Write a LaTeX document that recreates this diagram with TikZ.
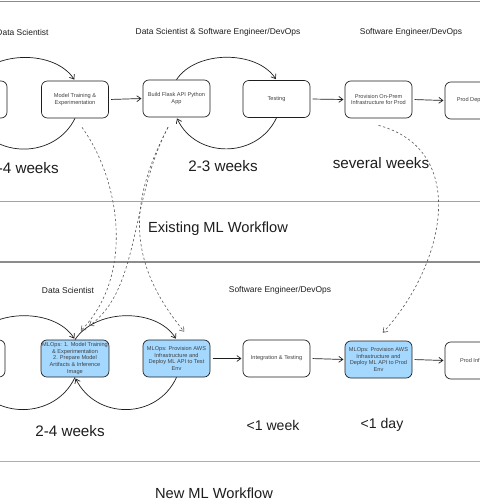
\documentclass[tikz,border=0pt]{standalone}
\usepackage{fontspec}
\setmainfont{Liberation Sans}
\usetikzlibrary{arrows.meta,calc}
\definecolor{ink}{HTML}{1E1E1E}
\definecolor{mlblue}{HTML}{A5D8FF}
\definecolor{rulegray}{HTML}{8C8C8C}
\begin{document}
\begin{tikzpicture}[x=0.03cm, y=-0.03cm,
  flowbox/.style={draw=ink, line width=0.6pt, rounded corners=5pt, minimum width=2.01cm,
    minimum height=1.11cm, align=center, inner sep=1pt, text=ink!85,
    font=\fontsize{4.8}{5.8}\selectfont},
  mlbox/.style={flowbox, fill=mlblue},
  flow/.style={draw=ink, line width=0.6pt, -{Straight Barb[length=3.5pt,width=5pt]}, shorten >=1pt},
  link/.style={flow, draw=ink!75, line width=0.5pt, dash pattern=on 2pt off 2pt},
  role/.style={font=\fontsize{7.2}{8.5}\selectfont, text=ink},
  duration/.style={font=\fontsize{13}{15}\selectfont, text=ink},
  shortdur/.style={font=\fontsize{12}{14}\selectfont, text=ink},
  wftitle/.style={font=\fontsize{12.5}{14}\selectfont, text=ink}]

  % page, cropped like the screenshot
  \useasboundingbox (0,0) rectangle (480,504);
  \fill[white] (0,0) rectangle (480,504);
  \clip (0,0) rectangle (480,504);

  % separators
  \draw[rulegray, line width=1.2pt] (0,1.5) -- (480,1.5);
  \draw[rulegray!80, line width=0.6pt] (0,201) -- (480,201);
  \draw[rulegray, line width=1.5pt] (0,262) -- (480,262);
  \draw[rulegray!70, line width=0.6pt] (0,461) -- (480,461);

  % Existing workflow: roles
  \node[role] (hds) at (22.5,32) {Data Scientist};
  \node[role] (hdsse) at (218,32) {Data Scientist \& Software Engineer/DevOps};
  \node[role] (hse) at (411,32) {Software Engineer/DevOps};

  % Existing workflow: steps
  \node[flowbox] (t0) at (-26.5,99.5) {};
  \node[flowbox] (t1) at (75,99.5) {Model Training \&\\Experimentation};
  \node[flowbox] (t2) at (176.5,98.5) {Build Flask API Python\\App};
  \node[flowbox] (t3) at (276.5,99) {Testing};
  \node[flowbox] (t4) at (378.5,99.5) {Provision On-Prem\\Infrastructure for Prod};
  \node[flowbox] (t5) at (478.5,100.5) {Prod Deployment};

  \draw[flow] (t0.north) .. controls (-6,50) and (55,50) .. (t1.north);
  \draw[flow] (t1.south) .. controls (55,159) and (-6,159) .. (t0.south);
  \draw[flow, shorten <=2pt] (t1.east) -- (t2.west);
  \draw[flow] (t2.north) .. controls (196,50) and (257,50) .. (t3.north);
  \draw[flow] (t3.south) .. controls (257,159) and (196,159) .. (t2.south);
  \draw[flow, shorten <=2pt] (t3.east) -- (t4.west);
  \draw[flow, shorten <=2pt] (t4.east) -- (t5.west);

  \node[duration] (d1) at (24,168) {2-4 weeks};
  \node[duration] (d2) at (223,166) {2-3 weeks};
  \node[duration] (d3) at (381,163) {several weeks};

  \node[wftitle] (old) at (218,229) {Existing ML Workflow};

  % New workflow: roles
  \node[role] (bds) at (68,290) {Data Scientist};
  \node[role] (bse) at (280,290) {Software Engineer/DevOps};

  % New workflow: steps
  \node[flowbox] (b0) at (-28.5,358.5) {};
  \node[mlbox] (b1) at (75,358.5) {MLOps: 1. Model Training\\\& Experimentation\\2. Prepare Model\\Artifacts \& Inference\\Image};
  \node[mlbox] (b2) at (176.5,358.5) {MLOps: Provision AWS\\Infrastructure and\\Deploy ML API to Test\\Env};
  \node[flowbox] (b3) at (276.5,358.5) {Integration \& Testing};
  \node[mlbox] (b4) at (378.5,359.5) {MLOps: Provision AWS\\Infrastructure and\\Deploy ML API to Prod\\Env};
  \node[flowbox] (b5) at (478.5,360.5) {Prod Inference};

  \draw[flow] (b0.north) .. controls (-8,308) and (55,308) .. (b1.north);
  \draw[flow] (b1.north) .. controls (96,308) and (157,308) .. (b2.north);
  \draw[flow] (b2.south) .. controls (157,420) and (96,420) .. (b1.south);
  \draw[flow] (b1.south) .. controls (55,420) and (-8,420) .. (b0.south);
  \draw[flow, shorten <=2pt] (b2.east) -- (b3.west);
  \draw[flow, shorten <=2pt] (b3.east) -- (b4.west);
  \draw[flow, shorten <=2pt] (b4.east) -- (b5.west);

  % old step -> new step (dashed)
  \draw[link] ($(t1.south)+(7,9)$) .. controls (120,180) and (135,275) .. ($(b1.north)+(5,-8)$);
  \draw[link] ($(t2.south)+(-8.5,10)$) .. controls (130,200) and (140,290) .. ($(b1.north)+(13,-13)$);
  \draw[link] ($(t2.south)+(-8.5,10)$) .. controls (130,200) and (125,260) .. ($(b2.north)+(8.5,-7)$);
  \draw[link] ($(t4.south)+(0,7)$) .. controls (470,150) and (445,265) .. ($(b4.north)+(3.5,-7)$);

  \node[duration] (d4) at (70,431) {2-4 weeks};
  \node[shortdur] (d5) at (273,425) {<1 week};
  \node[shortdur] (d6) at (382,425) {<1 day};

  \node[wftitle] (new) at (214,493) {New ML Workflow};
\end{tikzpicture}
\end{document}
